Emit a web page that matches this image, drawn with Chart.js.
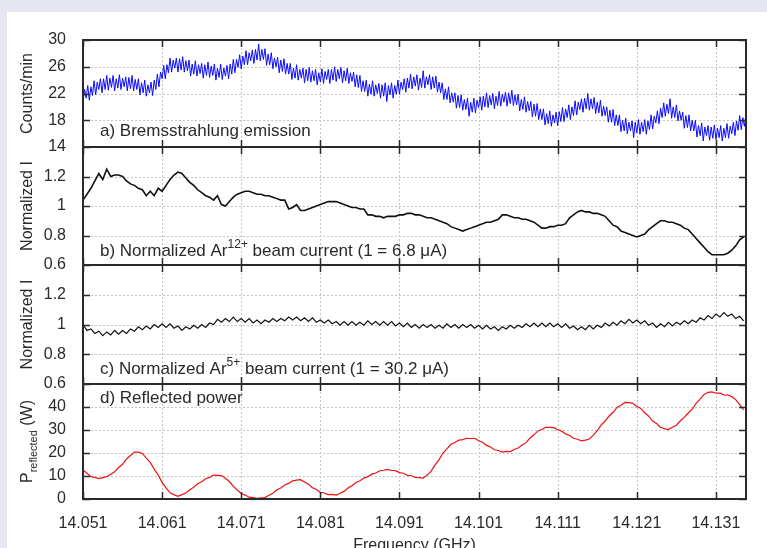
<!DOCTYPE html>
<html>
<head>
<meta charset="utf-8">
<script src="https://cdn.jsdelivr.net/npm/chart.js@4.4.1/dist/chart.umd.min.js"></script>
<style>
  body { margin: 0; background: #e6e6f2; }
  #wrap { position: relative; width: 767px; height: 548px; overflow: hidden; }
  #card { position: absolute; left: 7px; top: 12px; right: 0; bottom: 0; background: #fff; }
  canvas { position: absolute; left: 0; top: 0; }
</style>
</head>
<body>
<div id="wrap">
  <div id="card"></div>
  <canvas id="panelA" width="767" height="548"></canvas>
  <canvas id="panelB" width="767" height="548"></canvas>
  <canvas id="panelC" width="767" height="548"></canvas>
  <canvas id="panelD" width="767" height="548"></canvas>
</div>
<script>
// frequency sweep (GHz)
const freqStart = 14.051;
const freqEnd = 14.1348;
const bremsStep = 0.0002;
const sweepStep = 0.0005;
const freqTicks = [14.051, 14.061, 14.071, 14.081, 14.091, 14.101, 14.111, 14.121, 14.131];

const countsTicks = [14, 18, 22, 26, 30];
const normTicks = [0.6, 0.8, 1, 1.2];
const powerTicks = [0, 10, 20, 30, 40];

// a) Bremsstrahlung counts/min
const bremsCounts = [
  20.7, 22.6, 21.3, 23.2, 21.0, 23.0, 21.7, 23.9, 21.8, 23.7, 22.6, 24.2, 22.1, 24.2, 22.6, 24.7, 22.5, 24.3, 22.9, 24.7,
  22.4, 24.2, 22.8, 24.8, 22.6, 24.3, 23.0, 24.5, 22.4, 24.4, 22.7, 24.7, 22.4, 24.1, 22.6, 24.2, 21.8, 23.6, 22.1, 24.0,
  21.6, 23.3, 22.1, 23.7, 21.7, 24.0, 22.6, 24.9, 23.0, 25.2, 24.2, 26.2, 24.2, 26.3, 25.1, 27.3, 25.2, 27.0, 25.8, 27.3,
  25.2, 27.2, 25.5, 27.5, 25.2, 26.9, 25.4, 27.0, 24.6, 26.4, 24.9, 26.9, 24.6, 26.3, 25.0, 26.5, 24.3, 26.3, 24.7, 26.7,
  24.4, 26.1, 24.7, 26.4, 24.0, 25.8, 24.4, 26.4, 24.1, 25.8, 24.6, 26.2, 24.2, 26.4, 24.9, 27.1, 25.1, 27.1, 25.9, 27.8,
  25.7, 27.6, 26.3, 28.4, 26.3, 28.1, 26.9, 28.5, 26.5, 28.6, 27.0, 29.4, 26.9, 28.6, 27.1, 28.7, 26.2, 27.9, 26.3, 28.1,
  25.7, 27.3, 26.0, 27.4, 25.1, 27.0, 25.3, 27.2, 24.9, 26.5, 24.9, 26.5, 24.1, 25.8, 24.3, 26.3, 24.0, 25.6, 24.3, 25.8,
  23.6, 25.6, 23.9, 25.9, 23.7, 25.4, 23.9, 25.6, 23.3, 25.1, 23.7, 25.7, 23.5, 25.3, 24.1, 25.6, 23.5, 25.6, 24.0, 26.0,
  23.8, 25.6, 24.2, 25.9, 23.6, 25.4, 23.9, 25.8, 23.5, 25.1, 23.8, 25.2, 23.0, 24.8, 22.9, 24.7, 22.3, 23.9, 22.3, 24.0,
  21.6, 23.4, 21.9, 23.9, 21.6, 23.3, 22.0, 23.5, 21.3, 23.3, 21.6, 23.6, 20.8, 23.2, 21.8, 23.6, 21.3, 23.2, 21.9, 24.0,
  21.9, 23.7, 22.6, 24.2, 22.2, 24.3, 22.8, 24.9, 22.7, 24.5, 23.1, 24.8, 22.5, 24.3, 22.9, 25.4, 22.8, 24.5, 23.3, 24.8,
  22.6, 24.5, 22.8, 24.6, 22.2, 23.7, 22.1, 23.6, 21.1, 22.7, 21.1, 23.0, 20.6, 22.1, 20.7, 22.1, 19.8, 21.7, 19.9, 21.8,
  19.5, 21.1, 19.6, 21.3, 18.6, 20.7, 19.2, 21.3, 19.1, 21.0, 19.9, 21.5, 19.5, 21.6, 20.0, 22.1, 19.9, 21.7, 20.3, 22.0,
  19.7, 21.6, 20.2, 22.3, 20.1, 21.9, 20.7, 22.2, 20.1, 22.1, 20.5, 22.5, 20.2, 21.8, 20.3, 21.9, 19.4, 21.1, 19.6, 21.5,
  19.2, 20.8, 19.4, 20.8, 18.5, 20.4, 18.6, 20.5, 18.1, 19.7, 18.1, 19.7, 17.3, 19.0, 17.5, 19.4, 17.1, 18.8, 17.6, 19.2,
  17.2, 19.3, 17.8, 19.9, 17.8, 19.7, 18.4, 20.3, 18.1, 20.0, 18.7, 20.9, 18.8, 20.7, 19.6, 21.2, 19.2, 21.3, 19.7, 22.0,
  19.5, 21.2, 19.7, 21.4, 19.0, 20.7, 19.1, 21.0, 18.6, 20.1, 18.7, 20.0, 17.7, 19.5, 17.7, 19.6, 17.2, 18.8, 17.2, 18.8,
  16.3, 18.0, 16.4, 18.3, 16.0, 17.7, 16.4, 17.9, 15.4, 17.7, 16.1, 18.1, 15.9, 17.7, 16.3, 18.1, 15.9, 17.9, 16.6, 18.8,
  16.7, 18.6, 17.6, 19.4, 17.5, 19.8, 18.4, 20.6, 18.6, 20.4, 19.0, 21.2, 18.3, 20.0, 18.4, 20.3, 17.9, 19.4, 18.0, 19.2,
  16.8, 18.7, 16.9, 18.8, 16.4, 18.0, 16.4, 18.0, 15.5, 17.2, 15.7, 17.6, 14.9, 17.0, 15.7, 17.2, 15.0, 17.0, 15.3, 17.3,
  15.1, 16.8, 15.4, 17.2, 14.9, 16.8, 15.4, 17.5, 15.3, 17.1, 16.0, 17.7, 15.7, 17.9, 16.5, 18.7, 16.6, 18.4, 17.1, 18.9
];

// b) normalized Ar12+ current
const ar12Current = [
  1.04, 1.08, 1.12, 1.17, 1.22, 1.18, 1.25, 1.20, 1.21, 1.21,
  1.20, 1.17, 1.15, 1.14, 1.12, 1.11, 1.07, 1.10, 1.07, 1.12,
  1.10, 1.14, 1.18, 1.21, 1.23, 1.22, 1.19, 1.16, 1.14, 1.11,
  1.09, 1.07, 1.06, 1.04, 1.07, 1.01, 1.00, 1.03, 1.06, 1.08,
  1.09, 1.10, 1.10, 1.09, 1.08, 1.08, 1.07, 1.07, 1.06, 1.05,
  1.04, 1.04, 0.98, 0.99, 1.01, 0.97, 0.97, 0.98, 0.99, 1.00,
  1.01, 1.02, 1.03, 1.03, 1.03, 1.02, 1.01, 1.00, 0.99, 0.99,
  0.98, 0.98, 0.94, 0.94, 0.93, 0.93, 0.92, 0.93, 0.93, 0.93,
  0.94, 0.94, 0.95, 0.95, 0.94, 0.94, 0.93, 0.92, 0.92, 0.91,
  0.90, 0.89, 0.88, 0.86, 0.85, 0.84, 0.83, 0.84, 0.85, 0.86,
  0.87, 0.88, 0.89, 0.89, 0.90, 0.91, 0.94, 0.94, 0.93, 0.92,
  0.92, 0.91, 0.91, 0.90, 0.89, 0.87, 0.85, 0.85, 0.86, 0.86,
  0.87, 0.87, 0.88, 0.92, 0.94, 0.96, 0.97, 0.96, 0.96, 0.95,
  0.95, 0.94, 0.93, 0.90, 0.87, 0.86, 0.83, 0.82, 0.81, 0.80,
  0.79, 0.80, 0.81, 0.84, 0.86, 0.88, 0.90, 0.90, 0.89, 0.89,
  0.88, 0.87, 0.85, 0.84, 0.81, 0.78, 0.75, 0.72, 0.69, 0.67,
  0.67, 0.67, 0.67, 0.68, 0.70, 0.73, 0.77, 0.79
];

// c) normalized Ar5+ current
const ar5Current = [
  1.00, 0.96, 0.97, 0.94, 0.955, 0.925, 0.95, 0.93, 0.96, 0.935,
  0.96, 0.94, 0.97, 0.955, 0.985, 0.965, 0.99, 0.97, 1.00, 0.98,
  1.005, 0.98, 1.005, 0.975, 0.99, 0.96, 0.985, 0.97, 0.995, 0.975,
  1.00, 0.98, 1.01, 1.00, 1.035, 1.015, 1.04, 1.02, 1.05, 1.02,
  1.04, 1.015, 1.04, 1.01, 1.03, 1.005, 1.03, 1.015, 1.04, 1.02,
  1.04, 1.025, 1.05, 1.03, 1.05, 1.025, 1.045, 1.02, 1.045, 1.015,
  1.03, 1.01, 1.03, 1.005, 1.02, 0.995, 1.02, 0.995, 1.02, 0.995,
  1.015, 0.995, 1.025, 1.00, 1.02, 0.995, 1.02, 0.995, 1.02, 0.99,
  1.01, 0.985, 1.01, 0.98, 1.00, 0.975, 1.00, 0.98, 1.00, 0.975,
  0.995, 0.975, 1.005, 0.98, 1.00, 0.975, 1.00, 0.98, 1.00, 0.975,
  0.995, 0.97, 0.995, 0.97, 0.985, 0.96, 0.985, 0.97, 0.995, 0.975,
  0.995, 0.98, 1.005, 0.985, 1.01, 0.985, 1.01, 0.985, 1.01, 0.985,
  1.005, 0.98, 1.005, 0.975, 0.99, 0.965, 0.985, 0.965, 0.995, 0.97,
  0.995, 0.98, 1.01, 0.99, 1.015, 0.995, 1.025, 1.005, 1.035, 1.01,
  1.03, 1.005, 1.025, 0.995, 1.01, 0.98, 1.005, 0.985, 1.015, 0.99,
  1.015, 1.00, 1.025, 1.005, 1.03, 1.015, 1.045, 1.03, 1.06, 1.04,
  1.07, 1.05, 1.08, 1.055, 1.07, 1.04, 1.055, 1.025
];

// d) reflected power (W)
const reflectedPower = [
  12.6, 11.2, 9.7, 9.4, 8.9, 9.3, 9.7, 10.8, 11.8, 13.7,
  15.1, 17.4, 18.9, 20.4, 20.4, 19.8, 17.8, 15.9, 13.0, 10.4,
  7.2, 4.8, 2.7, 1.9, 1.2, 1.9, 2.6, 4.0, 5.1, 6.6,
  7.5, 8.8, 9.4, 10.4, 10.3, 10.2, 9.0, 7.6, 5.5, 3.9,
  2.4, 1.7, 0.8, 0.6, 0.3, 0.5, 0.6, 1.6, 2.5, 4.0,
  4.8, 6.1, 6.8, 7.9, 8.2, 8.4, 7.4, 6.4, 4.9, 4.1,
  2.9, 2.6, 1.9, 2.0, 1.7, 2.5, 3.3, 4.8, 5.8, 7.2,
  7.9, 9.1, 9.7, 10.8, 11.3, 12.3, 12.5, 12.9, 12.4, 12.3,
  11.5, 11.2, 10.3, 10.1, 9.4, 9.3, 9.1, 10.4, 12.1, 14.8,
  17.0, 20.0, 21.8, 23.8, 24.6, 25.6, 25.8, 26.4, 26.3, 26.4,
  25.3, 24.7, 23.3, 22.6, 21.4, 21.1, 20.4, 20.7, 20.6, 21.5,
  22.2, 23.5, 24.5, 26.5, 27.9, 29.6, 30.2, 31.2, 31.1, 31.0,
  30.1, 29.5, 28.3, 27.6, 26.4, 26.0, 25.3, 25.6, 26.1, 27.8,
  29.7, 32.2, 33.9, 36.1, 37.7, 39.8, 40.8, 42.0, 41.9, 41.6,
  40.2, 39.4, 37.5, 36.0, 33.9, 32.8, 31.1, 30.6, 30.2, 31.2,
  32.1, 34.0, 35.5, 37.4, 39.1, 41.6, 43.4, 45.5, 46.4, 46.6,
  46.0, 46.0, 45.3, 45.2, 44.5, 43.2, 41.0, 38.7
];

// text pieces: [text, 0 normal | 1 superscript | -1 subscript]
const titleA = [["Counts/min", 0]];
const titleNorm = [["Normalized I", 0]];
const titleD = [["P", 0], ["reflected", -1], [" (W)", 0]];
const noteA = [["a) Bremsstrahlung emission", 0]];
const noteB = [["b) Normalized Ar", 0], ["12+", 1], [" beam current (1 = 6.8 \u03bcA)", 0]];
const noteC = [["c) Normalized Ar", 0], ["5+", 1], [" beam current (1 = 30.2 \u03bcA)", 0]];
const noteD = [["d) Reflected power", 0]];
const xTitle = "Frequency (GHz)";

const FONT = '"Liberation Sans", Arial, Helvetica, sans-serif';
const INK = "#2a2a2a";

function toPoints(values, step) {
  return values.map((v, i) => ({ x: freqStart + i * step, y: v }));
}

function drawRich(ctx, segs, x, y, size, center) {
  const small = Math.round(size * 0.68);
  const fontOf = k => (k ? small : size) + "px " + FONT;
  let total = 0;
  segs.forEach(([t, k]) => { ctx.font = fontOf(k); total += ctx.measureText(t).width; });
  let cx = center ? x - total / 2 : x;
  segs.forEach(([t, k]) => {
    ctx.font = fontOf(k);
    const dy = k > 0 ? -size * 0.45 : (k < 0 ? size * 0.32 : 0);
    ctx.fillText(t, cx, y + dy);
    cx += ctx.measureText(t).width;
  });
}

const decor = {
  id: "decor",
  beforeDatasetsDraw(chart, args, opts) {
    const { ctx, chartArea: a, scales } = chart;
    ctx.save();
    ctx.strokeStyle = "#c4c4c4";
    ctx.lineWidth = 1;
    ctx.setLineDash([2, 2]);
    ctx.beginPath();
    freqTicks.forEach(v => {
      const px = Math.round(scales.x.getPixelForValue(v)) + 0.5;
      if (px <= a.left + 1 || px >= a.right - 1) return;
      ctx.moveTo(px, a.top); ctx.lineTo(px, a.bottom);
    });
    opts.yTicks.forEach(v => {
      const py = Math.round(scales.y.getPixelForValue(v)) + 0.5;
      if (py <= a.top + 1 || py >= a.bottom - 1) return;
      ctx.moveTo(a.left, py); ctx.lineTo(a.right, py);
    });
    ctx.stroke();
    ctx.restore();
  },
  afterDraw(chart, args, opts) {
    const { ctx, chartArea: a, scales } = chart;
    ctx.save();
    ctx.strokeStyle = INK;
    ctx.lineWidth = 1.5;
    ctx.beginPath();
    freqTicks.forEach(v => {
      const px = Math.round(scales.x.getPixelForValue(v)) + 0.5;
      ctx.moveTo(px, a.top); ctx.lineTo(px, a.top + 7);
      ctx.moveTo(px, a.bottom); ctx.lineTo(px, a.bottom - 7);
    });
    opts.yTicks.forEach(v => {
      const py = Math.round(scales.y.getPixelForValue(v)) + 0.5;
      ctx.moveTo(a.left, py); ctx.lineTo(a.left + 7, py);
      ctx.moveTo(a.right, py); ctx.lineTo(a.right - 7, py);
    });
    ctx.stroke();
    ctx.lineWidth = 2;
    ctx.strokeRect(a.left, a.top, a.right - a.left, a.bottom - a.top);

    ctx.fillStyle = INK;
    ctx.textAlign = "left";
    ctx.textBaseline = "alphabetic";
    drawRich(ctx, opts.note, 100, opts.noteY, 17, false);

    if (opts.xTitle) {
      ctx.font = "16px " + FONT;
      ctx.textAlign = "center";
      ctx.fillText(opts.xTitle, (a.left + a.right) / 2, 550);
      ctx.textAlign = "left";
    }

    ctx.translate(32, (a.top + a.bottom) / 2);
    ctx.rotate(-Math.PI / 2);
    drawRich(ctx, opts.title, 0, 0, 16, true);
    ctx.restore();
  }
};

const panels = [
  { id: "panelA", top: 40, bottom: 147, yMin: 14, yMax: 30, yTicks: countsTicks,
    values: bremsCounts, step: bremsStep, color: "#0a0aff", width: 1,
    note: noteA, noteY: 136, title: titleA },
  { id: "panelB", top: 147, bottom: 265, yMin: 0.6, yMax: 1.4, yTicks: normTicks,
    values: ar12Current, step: sweepStep, color: "#111", width: 1.6,
    note: noteB, noteY: 256, title: titleNorm },
  { id: "panelC", top: 265, bottom: 384, yMin: 0.6, yMax: 1.4, yTicks: normTicks,
    values: ar5Current, step: sweepStep, color: "#111", width: 1.2,
    note: noteC, noteY: 374, title: titleNorm },
  { id: "panelD", top: 384, bottom: 499, yMin: 0, yMax: 50, yTicks: powerTicks,
    values: reflectedPower, step: sweepStep, color: "#ee1111", width: 1.2,
    note: noteD, noteY: 403, title: titleD, showX: true }
];

Chart.defaults.font.family = FONT;
Chart.defaults.color = INK;

panels.forEach(p => {
  const xHeight = p.showX ? 49 : 0;
  new Chart(document.getElementById(p.id), {
    type: "line",
    data: {
      datasets: [{
        data: toPoints(p.values, p.step),
        borderColor: p.color,
        borderWidth: p.width,
        pointRadius: 0,
        tension: 0,
        fill: false
      }]
    },
    options: {
      responsive: false,
      animation: false,
      events: [],
      layout: { padding: { left: 10, right: 21, top: p.top, bottom: 548 - p.bottom - xHeight } },
      plugins: {
        legend: { display: false },
        tooltip: { enabled: false },
        decor: { yTicks: p.yTicks, note: p.note, noteY: p.noteY, title: p.title, xTitle: p.showX ? xTitle : null }
      },
      scales: {
        x: {
          type: "linear",
          display: !!p.showX,
          min: freqStart,
          max: freqEnd,
          grid: { display: false },
          border: { display: false },
          ticks: {
            autoSkip: false,
            maxRotation: 0,
            padding: 7,
            font: { size: 16 },
            callback: v => v.toFixed(3)
          },
          afterBuildTicks: s => { s.ticks = freqTicks.map(v => ({ value: v })); },
          afterFit: s => { s.height = xHeight; }
        },
        y: {
          min: p.yMin,
          max: p.yMax,
          grid: { display: false },
          border: { display: false },
          ticks: {
            autoSkip: false,
            padding: 9,
            font: { size: 16 },
            callback: v => String(v)
          },
          afterBuildTicks: s => { s.ticks = p.yTicks.map(v => ({ value: v })); },
          afterFit: s => { s.width = 73; }
        }
      }
    },
    plugins: [decor]
  });
});
</script>
</body>
</html>
